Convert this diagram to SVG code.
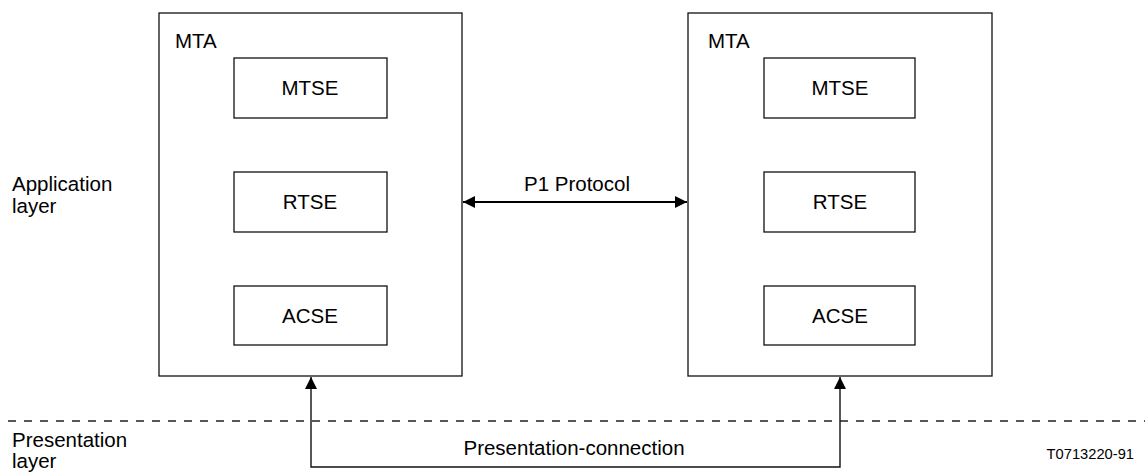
<svg xmlns="http://www.w3.org/2000/svg" width="1145" height="473" viewBox="0 0 1145 473">
<style>
text{font-family:"Liberation Sans",Arial,sans-serif;font-size:20.5px;fill:#000}
.box{fill:#fff;stroke:#111;stroke-width:1.3}
.c{text-anchor:middle}
.ln{fill:none;stroke:#111;stroke-width:1.4}
</style>
<defs>
<marker id="ah" viewBox="0 0 12 12" refX="12" refY="6" markerWidth="12" markerHeight="12" markerUnits="userSpaceOnUse" orient="auto-start-reverse">
<path d="M0,0 L12,6 L0,12 Z" fill="#000"/>
</marker>
</defs>
<rect width="1145" height="473" fill="#fff"/>
<g id="labels">
<text x="12" y="191">Application</text>
<text x="12" y="213">layer</text>
<text x="12" y="447">Presentation</text>
<text x="12" y="468">layer</text>
<text x="1134" y="459" style="font-size:14.7px;text-anchor:end">T0713220-91</text>
</g>
<g id="mta-left">
<rect class="box" x="159" y="13" width="303" height="363"/>
<text x="175" y="48">MTA</text>
<g id="mtse-left"><rect class="box" x="234" y="58" width="153" height="60"/><text class="c" x="310" y="95">MTSE</text></g>
<g id="rtse-left"><rect class="box" x="234" y="172" width="153" height="60"/><text class="c" x="310" y="209">RTSE</text></g>
<g id="acse-left"><rect class="box" x="234" y="286" width="153" height="59"/><text class="c" x="310" y="323">ACSE</text></g>
</g>
<g id="mta-right">
<rect class="box" x="688" y="13" width="304" height="363"/>
<text x="708" y="48">MTA</text>
<g id="mtse-right"><rect class="box" x="764" y="58" width="151" height="60"/><text class="c" x="840" y="95">MTSE</text></g>
<g id="rtse-right"><rect class="box" x="764" y="172" width="151" height="60"/><text class="c" x="840" y="209">RTSE</text></g>
<g id="acse-right"><rect class="box" x="764" y="286" width="151" height="59"/><text class="c" x="840" y="323">ACSE</text></g>
</g>
<g id="connectors">
<line x1="8" y1="421" x2="1145" y2="421" stroke="#222" stroke-width="1.3" stroke-dasharray="8,8"/>
<line x1="463" y1="202" x2="687" y2="202" stroke="#000" stroke-width="2" marker-start="url(#ah)" marker-end="url(#ah)"/>
<text class="c" x="577" y="191">P1 Protocol</text>
<path class="ln" d="M311,377 V467 H840 V377" marker-start="url(#ah)" marker-end="url(#ah)"/>
<text class="c" x="574" y="455">Presentation-connection</text>
</g>
</svg>
